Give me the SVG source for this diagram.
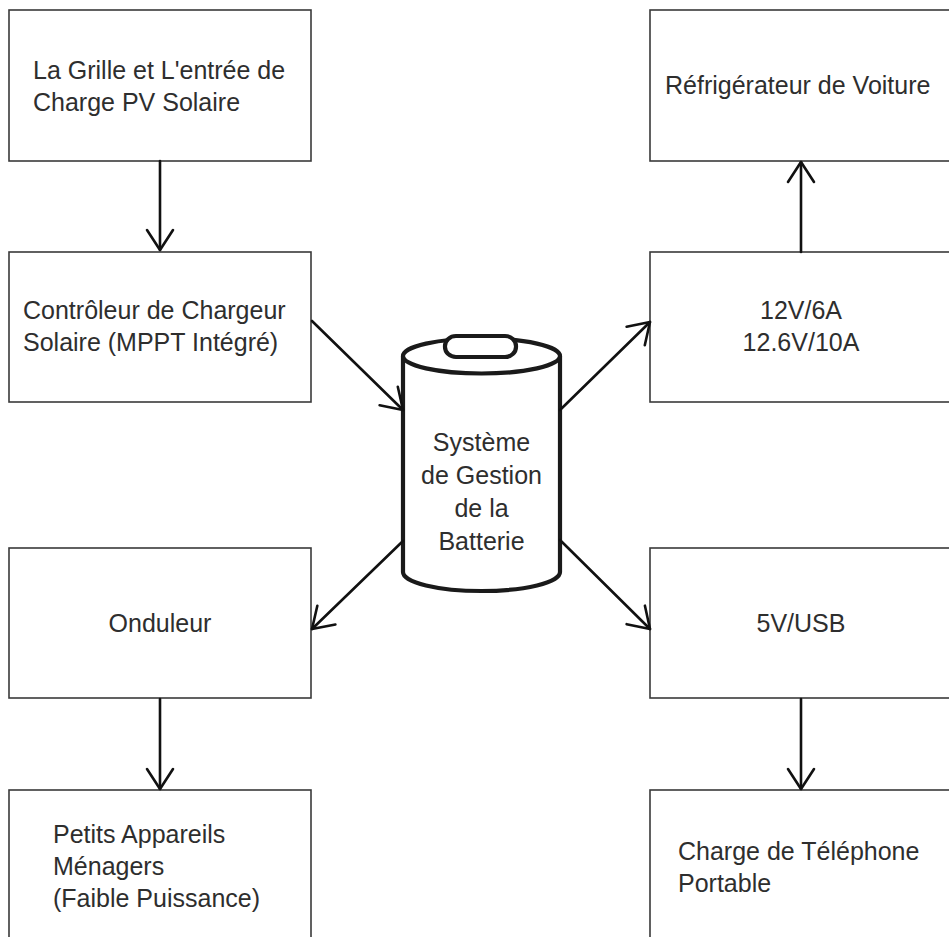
<svg xmlns="http://www.w3.org/2000/svg" width="949" height="937" viewBox="0 0 949 937">
  <style>
    .box { fill: #ffffff; stroke: #3a3a3a; stroke-width: 1.6; }
    .lbl { font-family: "Liberation Sans", Arial, sans-serif; font-size: 25px; fill: #2e2e2e; }
    .mid { text-anchor: middle; }
    .edge { fill: none; stroke: #111111; stroke-width: 2.6; stroke-linecap: round; }
    .cyl { fill: #ffffff; stroke: #1a1a1a; stroke-width: 4.2; stroke-linejoin: round; }
  </style>
  <defs>
    <marker id="arrow" markerUnits="userSpaceOnUse" markerWidth="40" markerHeight="40" viewBox="-24 -20 30 40" refX="0" refY="0" orient="auto">
      <path d="M-20,-13 L0,0 L-20,13" fill="none" stroke="#111111" stroke-width="2.6" stroke-linecap="round" stroke-linejoin="round"/>
    </marker>
  </defs>

  <rect width="949" height="937" fill="#ffffff"/>

  <!-- left column -->
  <g id="grid-input">
    <rect class="box" x="9" y="10" width="302" height="151"/>
    <text class="lbl" x="33" y="79">La Grille et L'entrée de</text>
    <text class="lbl" x="33" y="111">Charge PV Solaire</text>
  </g>
  <g id="charge-controller">
    <rect class="box" x="9" y="252" width="302" height="150"/>
    <text class="lbl" x="23" y="319">Contrôleur de Chargeur</text>
    <text class="lbl" x="23" y="351">Solaire (MPPT Intégré)</text>
  </g>
  <g id="inverter">
    <rect class="box" x="9" y="548" width="302" height="150"/>
    <text class="lbl mid" x="160" y="632">Onduleur</text>
  </g>
  <g id="appliances">
    <rect class="box" x="9" y="790" width="302" height="152"/>
    <text class="lbl" x="53" y="843">Petits Appareils</text>
    <text class="lbl" x="53" y="875">Ménagers</text>
    <text class="lbl" x="53" y="907">(Faible Puissance)</text>
  </g>

  <!-- right column -->
  <g id="car-fridge">
    <rect class="box" x="650" y="10" width="304" height="151"/>
    <text class="lbl" x="665" y="94">Réfrigérateur de Voiture</text>
  </g>
  <g id="dc-output">
    <rect class="box" x="650" y="252" width="304" height="150"/>
    <text class="lbl mid" x="801" y="319">12V/6A</text>
    <text class="lbl mid" x="801" y="351">12.6V/10A</text>
  </g>
  <g id="usb-output">
    <rect class="box" x="650" y="548" width="304" height="150"/>
    <text class="lbl mid" x="801" y="632">5V/USB</text>
  </g>
  <g id="phone-charging">
    <rect class="box" x="650" y="790" width="304" height="152"/>
    <text class="lbl" x="678" y="860">Charge de Téléphone</text>
    <text class="lbl" x="678" y="892">Portable</text>
  </g>

  <!-- battery management system (cylinder) -->
  <g id="bms">
    <path class="cyl" d="M403,356 L403,572 A78.5,19 0 0 0 560,572 L560,356"/>
    <ellipse class="cyl" cx="481.5" cy="356" rx="78.5" ry="17.5"/>
    <rect class="cyl" x="445" y="336" width="71" height="21" rx="11" ry="10"/>
    <text class="lbl mid" x="481.5" y="451">Système</text>
    <text class="lbl mid" x="481.5" y="484">de Gestion</text>
    <text class="lbl mid" x="481.5" y="517">de la</text>
    <text class="lbl mid" x="481.5" y="550">Batterie</text>
  </g>

  <!-- connectors -->
  <g id="connectors">
    <line class="edge" x1="160" y1="161" x2="160" y2="250" marker-end="url(#arrow)"/>
    <line class="edge" x1="312" y1="321" x2="403" y2="410" marker-end="url(#arrow)"/>
    <line class="edge" x1="403" y1="541" x2="312" y2="629" marker-end="url(#arrow)"/>
    <line class="edge" x1="160" y1="699" x2="160" y2="789" marker-end="url(#arrow)"/>
    <line class="edge" x1="560" y1="410" x2="650" y2="322" marker-end="url(#arrow)"/>
    <line class="edge" x1="801" y1="252" x2="801" y2="162" marker-end="url(#arrow)"/>
    <line class="edge" x1="560" y1="540" x2="650" y2="629" marker-end="url(#arrow)"/>
    <line class="edge" x1="801" y1="699" x2="801" y2="789" marker-end="url(#arrow)"/>
  </g>
</svg>
